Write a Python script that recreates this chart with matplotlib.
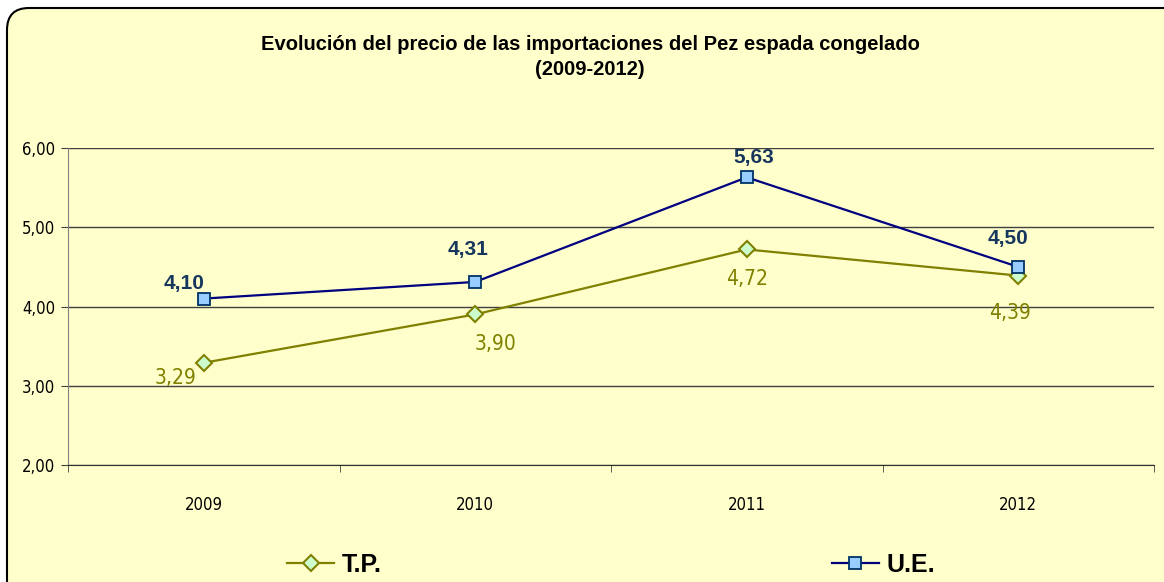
import matplotlib.pyplot as plt
from matplotlib.patches import FancyBboxPatch
from matplotlib.ticker import FixedLocator, FuncFormatter

years = ['2009', '2010', '2011', '2012']
tp_values = [3.29, 3.90, 4.72, 4.39]
ue_values = [4.10, 4.31, 5.63, 4.50]

# desplazamiento de las etiquetas (pixeles)
ue_offsets = [(-20, 15), (-7, 32), (7, 20), (-10, 28)]
tp_offsets = [(-28, -15), (20, -30), (0, -30), (-8, -37)]

narrow = ['DejaVu Sans']
bold = ['Liberation Sans', 'DejaVu Sans']

fig = plt.figure(figsize=(11.64, 5.82), dpi=100, facecolor='white')

# marco redondeado del grafico
box = FancyBboxPatch((7, -30), 1200, 582 - 8 + 30,
                     boxstyle='round,pad=0,rounding_size=22',
                     transform=None, facecolor='#FFFFCC', edgecolor='black',
                     linewidth=1.5, zorder=-10)
fig.patches.append(box)

ax = fig.add_axes([68 / 1164, 1 - 465 / 582, (1154 - 68) / 1164, (465 - 148) / 582])
ax.set_facecolor('none')

x = list(range(len(years)))
ax.plot(x, tp_values, color='#808000', lw=1.6, marker='D', ms=8,
        mfc='#CCFFCC', mec='#808000', mew=1.5, label='T.P.', zorder=3)
ax.plot(x, ue_values, color='#000080', lw=1.6, marker='s', ms=8,
        mfc='#99CCFF', mec='#003366', mew=1.3, label='U.E.', zorder=4)

for i, v in enumerate(ue_values):
    ax.annotate(f'{v:.2f}'.replace('.', ','), (i, v), xytext=ue_offsets[i],
                textcoords='offset pixels', ha='center', va='center',
                fontsize=15, fontweight='bold', color='#17365D', family=bold)
for i, v in enumerate(tp_values):
    ax.annotate(f'{v:.2f}'.replace('.', ','), (i, v), xytext=tp_offsets[i],
                textcoords='offset pixels', ha='center', va='center',
                fontsize=15, color='#808000', family=narrow, fontstretch='condensed')

ax.set_xlim(-0.5, len(years) - 0.5)
ax.set_ylim(2, 6)
ax.set_yticks([2, 3, 4, 5, 6])
ax.yaxis.set_major_formatter(FuncFormatter(lambda v, p: f'{v:.2f}'.replace('.', ',')))
ax.set_xticks(x)
ax.set_xticklabels(years)
ax.xaxis.set_minor_locator(FixedLocator([i - 0.5 for i in range(len(years) + 1)]))
ax.tick_params(axis='x', which='major', length=0, pad=22, labelsize=12)
ax.tick_params(axis='x', which='minor', length=5, direction='out', color='#404040')
ax.tick_params(axis='y', length=5, direction='out', color='#404040', labelsize=12, pad=4)
for lab in ax.get_xticklabels() + ax.get_yticklabels():
    lab.set_family(narrow)
    lab.set_fontstretch('condensed')

ax.grid(axis='y', color='#404040', lw=1)
ax.set_axisbelow(True)
for s in ['top', 'right']:
    ax.spines[s].set_visible(False)
ax.spines['left'].set_color('#808080')
ax.spines['bottom'].set_color('#303030')

fig.text(590 / 1164, 1 - 57 / 582,
         'Evolución del precio de las importaciones del Pez espada congelado\n(2009-2012)',
         ha='center', va='center', fontsize=14.5, fontweight='bold',
         family=bold, linespacing=1.45)

fig.legend(loc='center', bbox_to_anchor=(611 / 1164, 17 / 582), ncol=2,
           frameon=False, prop={'family': bold, 'weight': 'bold', 'size': 18},
           handlelength=1.9, handletextpad=0.3, columnspacing=18)

fig.savefig('out.png', dpi=100)
